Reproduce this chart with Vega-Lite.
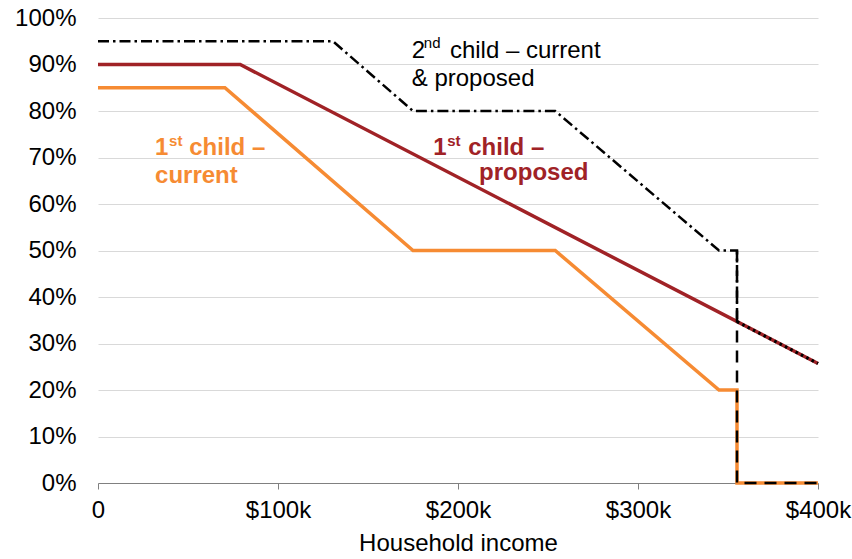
{
  "$schema": "https://vega.github.io/schema/vega-lite/v6.json",
  "width": 720,
  "height": 465,
  "autosize": "none",
  "padding": {"left": 98, "top": 18, "right": 34, "bottom": 76},
  "config": {
    "view": {"stroke": null},
    "font": "Liberation Sans",
    "axis": {"labelFont": "Liberation Sans", "titleFont": "Liberation Sans"}
  },
  "datasets": {
    "lines": [
      {"series": "c1", "income": 0, "rate": 85},
      {"series": "c1", "income": 70.5, "rate": 85},
      {"series": "c1", "income": 175, "rate": 50},
      {"series": "c1", "income": 254, "rate": 50},
      {"series": "c1", "income": 345, "rate": 20},
      {"series": "c1", "income": 355, "rate": 20},
      {"series": "c1", "income": 355, "rate": 0},
      {"series": "c1", "income": 400, "rate": 0},
      {"series": "p1", "income": 0, "rate": 90},
      {"series": "p1", "income": 79, "rate": 90},
      {"series": "p1", "income": 400, "rate": 25.7},
      {"series": "c2", "income": 0, "rate": 95},
      {"series": "c2", "income": 130.5, "rate": 95},
      {"series": "c2", "income": 175, "rate": 80},
      {"series": "c2", "income": 254, "rate": 80},
      {"series": "c2", "income": 345, "rate": 50},
      {"series": "c2", "income": 355, "rate": 50},
      {"series": "c2", "income": 355, "rate": 34.7},
      {"series": "c2b", "income": 355, "rate": 50},
      {"series": "c2b", "income": 355, "rate": 0},
      {"series": "c2b", "income": 400, "rate": 0},
      {"series": "p2", "income": 355, "rate": 34.7},
      {"series": "p2", "income": 400, "rate": 25.7}
    ],
    "labels": [
      {"key": "black", "income": 174.3, "rate": 91.5, "text": "2"},
      {"key": "black", "income": 195.5, "rate": 91.5, "text": "child – current"},
      {"key": "black", "income": 174.3, "rate": 85.4, "text": "& proposed"},
      {"key": "blacksup", "income": 181, "rate": 93.6, "text": "nd"},
      {"key": "red", "income": 186.3, "rate": 70.5, "text": "1"},
      {"key": "red", "income": 205.7, "rate": 70.5, "text": "child –"},
      {"key": "red", "income": 211.7, "rate": 65.2, "text": "proposed"},
      {"key": "redsup", "income": 194, "rate": 72.5, "text": "st"},
      {"key": "orange", "income": 31.7, "rate": 70.5, "text": "1"},
      {"key": "orange", "income": 50.7, "rate": 70.5, "text": "child –"},
      {"key": "orange", "income": 31.7, "rate": 64.5, "text": "current"},
      {"key": "orangesup", "income": 39.5, "rate": 72.5, "text": "st"}
    ]
  },
  "encoding": {
    "x": {
      "field": "income",
      "type": "quantitative",
      "scale": {"domain": [0, 400], "nice": false, "zero": true},
      "axis": {
        "title": "Household income",
        "values": [0, 100, 200, 300, 400],
        "labelExpr": "datum.value == 0 ? '0' : '$' + datum.value + 'k'",
        "labelFlush": false,
        "labelOverlap": false,
        "grid": false,
        "domainColor": "#808080",
        "tickColor": "#808080",
        "tickSize": 6,
        "labelPadding": 9,
        "labelFontSize": 24,
        "labelColor": "#000000",
        "titleFontSize": 24,
        "titleFontWeight": "normal",
        "titleColor": "#000000",
        "titlePadding": 9
      }
    },
    "y": {
      "field": "rate",
      "type": "quantitative",
      "scale": {"domain": [0, 100], "nice": false},
      "axis": {
        "title": null,
        "values": [0, 10, 20, 30, 40, 50, 60, 70, 80, 90, 100],
        "labelExpr": "datum.value + '%'",
        "labelFlush": false,
        "domain": false,
        "ticks": false,
        "labelPadding": 22,
        "labelFontSize": 24,
        "labelColor": "#000000",
        "gridColor": "#d9d9d9",
        "gridWidth": 1
      }
    }
  },
  "layer": [
    {
      "data": {"name": "lines"},
      "transform": [{"filter": "datum.series == 'c1'"}],
      "mark": {"type": "line", "color": "#F68B33", "strokeWidth": 3.5},
      "encoding": {}
    },
    {
      "data": {"name": "lines"},
      "transform": [{"filter": "datum.series == 'p1'"}],
      "mark": {"type": "line", "color": "#A02226", "strokeWidth": 3.5},
      "encoding": {}
    },
    {
      "data": {"name": "lines"},
      "transform": [{"filter": "datum.series == 'c2'"}],
      "mark": {"type": "line", "color": "#000000", "strokeWidth": 2.5, "strokeDash": [11, 4, 2.5, 4]},
      "encoding": {}
    },
    {
      "data": {"name": "lines"},
      "transform": [{"filter": "datum.series == 'c2b'"}],
      "mark": {"type": "line", "color": "#000000", "strokeWidth": 2.5, "strokeDash": [12, 8]},
      "encoding": {}
    },
    {
      "data": {"name": "lines"},
      "transform": [{"filter": "datum.series == 'p2'"}],
      "mark": {"type": "line", "color": "#000000", "strokeWidth": 3, "strokeDash": [2.5, 3.5]},
      "encoding": {}
    },
    {
      "data": {"name": "labels"},
      "transform": [{"filter": "datum.key == 'black'"}],
      "mark": {"type": "text", "align": "left", "baseline": "alphabetic", "fontSize": 24, "color": "#000000"},
      "encoding": {"text": {"field": "text"}}
    },
    {
      "data": {"name": "labels"},
      "transform": [{"filter": "datum.key == 'blacksup'"}],
      "mark": {"type": "text", "align": "left", "baseline": "alphabetic", "fontSize": 15, "color": "#000000"},
      "encoding": {"text": {"field": "text"}}
    },
    {
      "data": {"name": "labels"},
      "transform": [{"filter": "datum.key == 'red'"}],
      "mark": {"type": "text", "align": "left", "baseline": "alphabetic", "fontSize": 24, "fontWeight": "bold", "color": "#A02226"},
      "encoding": {"text": {"field": "text"}}
    },
    {
      "data": {"name": "labels"},
      "transform": [{"filter": "datum.key == 'redsup'"}],
      "mark": {"type": "text", "align": "left", "baseline": "alphabetic", "fontSize": 15, "fontWeight": "bold", "color": "#A02226"},
      "encoding": {"text": {"field": "text"}}
    },
    {
      "data": {"name": "labels"},
      "transform": [{"filter": "datum.key == 'orange'"}],
      "mark": {"type": "text", "align": "left", "baseline": "alphabetic", "fontSize": 24, "fontWeight": "bold", "color": "#F68B33"},
      "encoding": {"text": {"field": "text"}}
    },
    {
      "data": {"name": "labels"},
      "transform": [{"filter": "datum.key == 'orangesup'"}],
      "mark": {"type": "text", "align": "left", "baseline": "alphabetic", "fontSize": 15, "fontWeight": "bold", "color": "#F68B33"},
      "encoding": {"text": {"field": "text"}}
    }
  ]
}
